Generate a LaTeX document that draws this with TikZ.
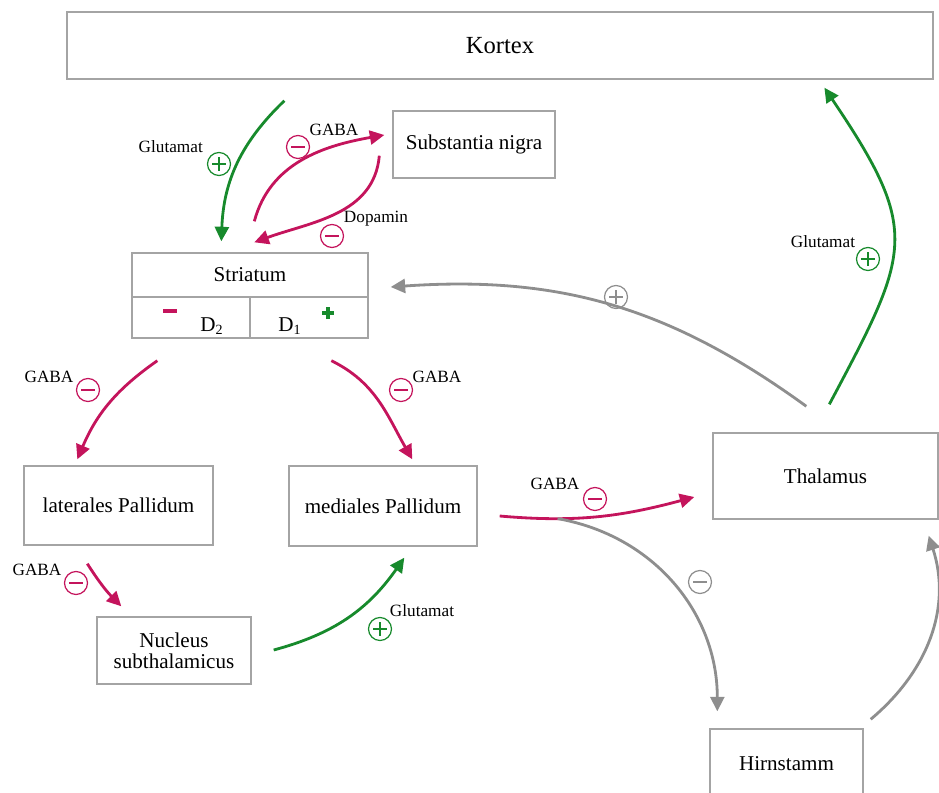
\documentclass[tikz,border=0pt]{standalone}
\usepackage{fontspec}
\setmainfont{Liberation Serif}
\usepackage{tikz}
\usetikzlibrary{arrows.meta,calc}
\definecolor{GabaRot}{HTML}{C4145C}
\definecolor{GlutGruen}{HTML}{178A2C}
\definecolor{BahnGrau}{HTML}{8E8E8E}
\definecolor{RandGrau}{HTML}{A4A4A4}

\begin{document}
\begin{tikzpicture}[x=0.02cm,y=0.02cm,
  every node/.style={font=\fontsize{12}{14}\selectfont},
  kasten/.style={rectangle,draw=RandGrau,line width=.8pt,fill=white,inner sep=0pt},
  stoff/.style={font=\fontsize{9.8}{11}\selectfont},
  bahn/.style={-{Triangle[length=2.9mm,width=2.8mm]},line width=1.6pt},
  hemmt/.style={circle,draw=#1,line width=.7pt,minimum size=4.6mm,inner sep=0pt,
    path picture={\draw[#1,line width=.7pt]
      ([xshift=.95mm]path picture bounding box.west) -- ([xshift=-.95mm]path picture bounding box.east);}},
  erregt/.style={circle,draw=#1,line width=.7pt,minimum size=4.6mm,inner sep=0pt,
    path picture={\draw[#1,line width=.7pt]
      ([xshift=.95mm]path picture bounding box.west) -- ([xshift=-.95mm]path picture bounding box.east)
      ([yshift=.95mm]path picture bounding box.south) -- ([yshift=-.95mm]path picture bounding box.north);}}]
\useasboundingbox (0,0) rectangle (939,792);
\clip (0,0) rectangle (939,792);

\node[kasten,minimum width=17.32cm,minimum height=1.34cm,font=\fontsize{14}{16}\selectfont] (kortex) at (500,746.5) {Kortex};
\node[kasten,minimum width=3.24cm,minimum height=1.34cm] (snigra) at (474,647.5) {Substantia nigra};
\node[kasten,minimum width=4.72cm,minimum height=1.7cm] (striatum) at (250,496.5) {};
\node (strtext) at (250,517) {Striatum};
\draw[RandGrau,line width=.6pt] ($(striatum.west)+(0,-1.5)$) -- ($(striatum.east)+(0,-1.5)$);
\draw[RandGrau,line width=.6pt] (striatum.south) -- ++(0,41);
\draw[GabaRot,line width=2.2pt] (163,481) -- (177,481);
\draw[GlutGruen,line width=2pt] (322,479) -- (334,479) (328,473) -- (328,485);
\node (d2) at (212,466) {D\textsubscript{2}};
\node (d1) at (290,466) {D\textsubscript{1}};
\node[kasten,minimum width=3.78cm,minimum height=1.58cm] (latpal) at (118.5,286.5) {laterales Pallidum};
\node[kasten,minimum width=3.76cm,minimum height=1.6cm] (medpal) at (383,286) {mediales Pallidum};
\node[kasten,minimum width=3.08cm,minimum height=1.34cm,align=center] (nst) at (174,141.5) {Nucleus\\[-2pt]subthalamicus};
\node[kasten,minimum width=4.5cm,minimum height=1.72cm] (thal) at (825.5,316) {Thalamus};
\node[kasten,minimum width=3.06cm,minimum height=1.4cm] (hirn) at (786.5,28) {Hirnstamm};

\draw[bahn,GlutGruen] ($(kortex.south west)+(218,-21)$) to[bend right=22] ($(striatum.north west)+(90,11)$);
\draw[bahn,GabaRot] ($(striatum.north west)+(123,31)$) to[out=75,in=190] ($(snigra.west)+(-8,9.5)$);
\draw[bahn,GabaRot] ($(snigra.south west)+(-13,23)$) to[out=-95,in=20] ($(striatum.north west)+(123,10)$);
\draw[bahn,BahnGrau] ($(thal.north west)+(94,26)$) to[out=144,in=4] ($(striatum.east)+(22,8.5)$);
\draw[bahn,GlutGruen] ($(thal.north west)+(117,28)$) to[out=62,in=-56,looseness=1.4] ($(kortex.south west)+(758,-8)$);
\draw[bahn,GabaRot] ($(striatum.south west)+(26,-22)$) to[out=215,in=67] ($(latpal.north west)+(54,6)$);
\draw[bahn,GabaRot] ($(striatum.south west)+(200,-22)$) to[out=-26,in=120] ($(medpal.north west)+(124,6)$);
\draw[bahn,GabaRot] ($(latpal.south west)+(64,-18)$) to[bend right=6] ($(nst.north west)+(25,10)$);
\draw[bahn,GlutGruen] ($(nst.east)+(22,0.5)$) to[out=15,in=235] ($(medpal.south west)+(116,-11)$);
\draw[bahn,BahnGrau] ($(hirn.north east)+(7,9)$) to[out=40,in=-72] ($(thal.south east)+(-10,-16)$);
\draw[bahn,GabaRot] ($(medpal.east)+(22,-10)$) to[out=-5,in=195]
  coordinate[pos=0.28] (abzweig) ($(thal.west)+(-18,-21)$);
\draw[bahn,BahnGrau] (abzweig) to[out=-10,in=90] ($(hirn.north west)+(8,17)$);

\node[erregt=GlutGruen] (s1) at (219,628) {};
\node[stoff,anchor=east] (l1) at (209,645) {Glutamat};
\node[hemmt=GabaRot] (s2) at (298,645) {};
\node[stoff] (l2) at (334,662) {GABA};
\node[hemmt=GabaRot] (s3) at (332,556) {};
\node[stoff] (l3) at (376,573) {Dopamin};
\node[erregt=BahnGrau] (s4) at (616,495) {};
\node[erregt=GlutGruen] (s5) at (868,533) {};
\node[stoff] (l5) at (823,550) {Glutamat};
\node[hemmt=GabaRot] (s6) at (88,402) {};
\node[stoff] (l6) at (49,415) {GABA};
\node[hemmt=GabaRot] (s7) at (401,402) {};
\node[stoff] (l7) at (437,415) {GABA};
\node[hemmt=GabaRot] (s8) at (76,209) {};
\node[stoff] (l8) at (37,222) {GABA};
\node[erregt=GlutGruen] (s9) at (380,163) {};
\node[stoff] (l9) at (422,181) {Glutamat};
\node[hemmt=GabaRot] (s10) at (595,293) {};
\node[stoff] (l10) at (555,308) {GABA};
\node[hemmt=BahnGrau] (s11) at (700,210) {};
\end{tikzpicture}
\end{document}
